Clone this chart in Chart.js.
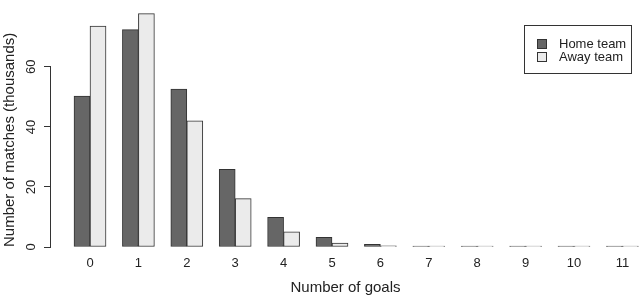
<!DOCTYPE html>
<html>
<head>
<meta charset="utf-8">
<script src="https://cdn.jsdelivr.net/npm/chart.js@4/dist/chart.umd.min.js"></script>
<style>
  body { margin: 0; background: #fff; }
  #wrap { width: 640px; height: 297px; }
</style>
</head>
<body>
<div id="wrap"><canvas id="goalsChart" width="640" height="297"></canvas></div>
<script>
// goals scored per match, counts in thousands
const goals = [0, 1, 2, 3, 4, 5, 6, 7, 8, 9, 10, 11];
const homeTeam = [50.3, 72.4, 52.6, 25.9, 9.9, 3.2, 0.85, 0.25, 0.06, 0.015, 0.004, 0.001];
const awayTeam = [73.6, 77.7, 42.0, 16.1, 5.05, 1.3, 0.35, 0.1, 0.02, 0.005, 0.001, 0.0005];
const yTicks = [0, 20, 40, 60];

const homeColor = "#666666";
const awayColor = "#ebebeb";
const inkColor = "#333333";

// R-style y axis line: only spans first to last tick
const axisLinePlugin = {
  id: "axisLine",
  afterDraw(chart) {
    const ctx = chart.ctx;
    const y = chart.scales.y;
    const x = Math.round(chart.chartArea.left) - 0.5;
    ctx.save();
    ctx.strokeStyle = inkColor;
    ctx.lineWidth = 1;
    ctx.beginPath();
    ctx.moveTo(x, y.getPixelForValue(yTicks[0]));
    ctx.lineTo(x, y.getPixelForValue(yTicks[yTicks.length - 1]));
    ctx.stroke();
    ctx.restore();
  },
};

// boxed legend inside the plot, top right
const boxLegendPlugin = {
  id: "boxLegend",
  afterDraw(chart) {
    const ctx = chart.ctx;
    ctx.save();
    ctx.strokeStyle = inkColor;
    ctx.lineWidth = 1;
    ctx.strokeRect(524.5, 25.5, 107, 48);
    ctx.font = "13px 'Liberation Sans', Arial, sans-serif";
    ctx.textBaseline = "middle";
    ctx.fillStyle = "#222";
    chart.data.datasets.forEach((ds, i) => {
      const top = 39 + i * 13;
      ctx.fillStyle = ds.backgroundColor;
      ctx.fillRect(537.5, top + 0.5, 9, 9);
      ctx.strokeRect(537.5, top + 0.5, 9, 9);
      ctx.fillStyle = "#222";
      ctx.fillText(ds.label, 559, top + 5);
    });
    ctx.restore();
  },
};

const ctx = document.getElementById("goalsChart").getContext("2d");
new Chart(ctx, {
  type: "bar",
  data: {
    datasets: [
      {
        label: "Home team",
        data: goals.map((g, i) => ({ x: g, y: homeTeam[i] })),
        backgroundColor: homeColor,
      },
      {
        label: "Away team",
        data: goals.map((g, i) => ({ x: g, y: awayTeam[i] })),
        backgroundColor: awayColor,
      },
    ],
  },
  options: {
    responsive: false,
    animation: false,
    layout: { padding: 0 },
    font: { family: "'Liberation Sans', Arial, sans-serif" },
    color: "#222",
    datasets: {
      bar: {
        barThickness: 16,
        borderWidth: 1,
        borderColor: inkColor,
        borderSkipped: false,
        minBarLength: 1,
      },
    },
    plugins: {
      legend: { display: false },
      tooltip: { enabled: false },
    },
    scales: {
      x: {
        type: "linear",
        position: "bottom",
        offset: false,
        min: -0.806,
        max: 11.364,
        afterBuildTicks: (axis) => {
          axis.ticks = goals.map((g) => ({ value: g }));
        },
        afterFit: (axis) => {
          axis.height = 50;
        },
        grid: { display: false, drawTicks: false, offset: false },
        border: { display: false },
        ticks: {
          padding: 9,
          color: "#222",
          font: { size: 13 },
          autoSkip: false,
          maxRotation: 0,
          callback: (v) => String(v),
        },
        title: {
          display: true,
          text: "Number of goals",
          color: "#222",
          font: { size: 15 },
          padding: { top: 0, bottom: 0 },
        },
      },
      y: {
        min: 0,
        max: 78,
        afterBuildTicks: (axis) => {
          axis.ticks = yTicks.map((v) => ({ value: v }));
        },
        afterFit: (axis) => {
          axis.width = 51;
        },
        grid: {
          display: true,
          drawOnChartArea: false,
          drawTicks: true,
          tickLength: 7,
          color: inkColor,
        },
        border: { display: false },
        ticks: {
          padding: 5,
          color: "#222",
          font: { size: 13 },
          minRotation: 90,
          maxRotation: 90,
          crossAlign: "center",
        },
        title: {
          display: true,
          text: "Number of matches (thousands)",
          color: "#222",
          align: "start",
          font: { size: 15 },
          padding: { top: 1, bottom: 0 },
        },
      },
    },
  },
  plugins: [axisLinePlugin, boxLegendPlugin],
});
</script>
</body>
</html>
